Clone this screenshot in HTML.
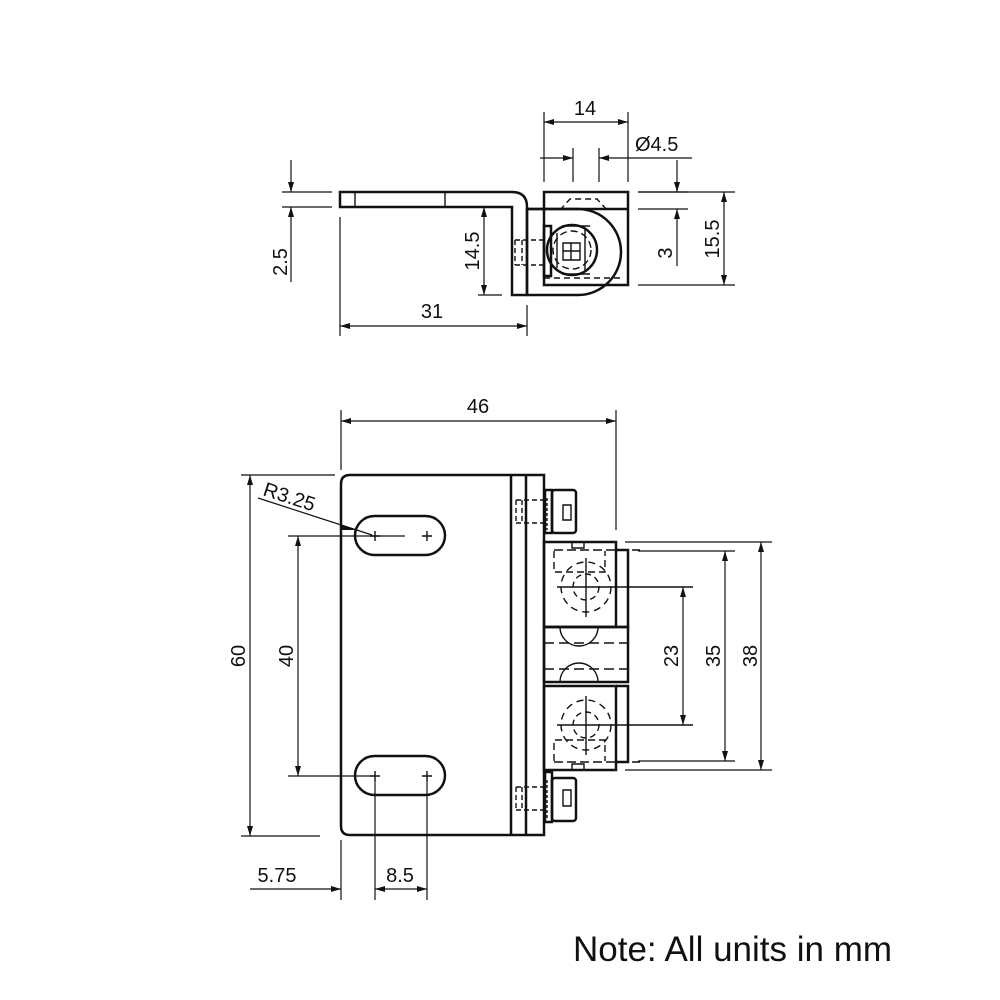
<!DOCTYPE html>
<html><head><meta charset="utf-8"><style>
html,body{margin:0;padding:0;background:#fff}
svg{display:block}
text{font-family:"Liberation Sans",Arial,sans-serif;fill:#111}
</style></head><body>
<svg width="1000" height="1000" viewBox="0 0 1000 1000" xmlns="http://www.w3.org/2000/svg">
<defs>
<marker id="a" viewBox="0 0 10 6" refX="10" refY="3" markerWidth="14" markerHeight="6" markerUnits="userSpaceOnUse" orient="auto-start-reverse"><path d="M0,0L10,3L0,6z" fill="#111"/></marker>
</defs>
<g stroke="#111" fill="none">
<!-- ============ TOP VIEW ============ -->
<g stroke-width="2.5">
<path d="M340,192 H512 Q527,192 527,207 V295 H512 V207 H340 Z"/>
<rect x="544" y="192" width="84" height="93"/>
<path d="M527,209 H628"/>
<path d="M527,209 H578 A43,43 0 0 1 578,295 H527"/>
<circle cx="572" cy="250" r="25"/>
<rect x="544" y="226" width="7" height="50"/>
<path d="M527,209 V295"/>
</g>
<g stroke-width="1.4">
<path d="M355,192 V207 M445,192 V207"/>
<path d="M515,240 H544 M515,265 H544 M515,240 V265 M522,240 V265" stroke-dasharray="5,3"/>
<path d="M562,226 H590 M562,274 H590 M585,228 V272 M557,233 V268" />
<path d="M563,243 H580 V260 H563 Z M571,243 V260 M563,251 H580"/>
<path d="M560,210 L570,199 H597 L607,210" stroke-dasharray="6,4"/>
<path d="M544,278 H620" stroke-dasharray="6,4"/>
<circle cx="572" cy="250" r="19" stroke-dasharray="7,4"/>
</g>
<g stroke-width="1.2">
<path d="M544,112 V182 M628,112 V182"/>
<path d="M544,122 H628" marker-start="url(#a)" marker-end="url(#a)"/>
<path d="M573,148 V182 M599,148 V182"/>
<path d="M540,158 H573" marker-end="url(#a)"/>
<path d="M692,158 H599" marker-end="url(#a)"/>
<path d="M282,192 H332 M282,207 H332"/>
<path d="M291,160 V192" marker-end="url(#a)"/>
<path d="M291,282 V207" marker-end="url(#a)"/>
<path d="M478,295 H502"/>
<path d="M484,207 V295" marker-start="url(#a)" marker-end="url(#a)"/>
<path d="M638,192 H688 M638,209 H688"/>
<path d="M677,160 V192" marker-end="url(#a)"/>
<path d="M677,266 V209" marker-end="url(#a)"/>
<path d="M638,192 H735 M638,285 H735"/>
<path d="M724,192 V285" marker-start="url(#a)" marker-end="url(#a)"/>
<path d="M340,217 V336 M527,305 V336"/>
<path d="M340,326 H527" marker-start="url(#a)" marker-end="url(#a)"/>
</g>

<!-- ============ FRONT VIEW ============ -->
<g stroke-width="2.5">
<path d="M350,475 H544 V835 H350 Q341,835 341,826 V484 Q341,475 350,475 Z"/>
<path d="M511,475 V835 M526,475 V835"/>
<rect x="355" y="516" width="90" height="39" rx="19.5"/>
<rect x="355" y="756" width="90" height="39" rx="19.5"/>
<rect x="545" y="490" width="7" height="43"/>
<rect x="552" y="490" width="24" height="43" rx="3"/>
<rect x="545" y="772" width="7" height="50"/>
<rect x="552" y="778" width="24" height="43" rx="3"/>
<rect x="544" y="542" width="72" height="85"/>
<path d="M616,550 H628 V627 H544"/>
<rect x="544" y="627" width="84" height="55"/>
<rect x="544" y="686" width="72" height="84"/>
<path d="M616,686 H628 V762 H616"/>
</g>
<g stroke-width="1.4">
<path d="M563,505 H571 V520 H563 Z"/>
<path d="M563,790 H571 V806 H563 Z"/>
<path d="M516,500 H545 M516,523 H545 M516,500 V523 M522,500 V523" stroke-dasharray="5,3"/>
<path d="M516,787 H545 M516,810 H545 M516,787 V810 M522,787 V810" stroke-dasharray="5,3"/>
<path d="M547,498 V530 M547,780 V818" stroke-dasharray="3,2"/>
<path d="M554,550 H640 M554,762 H640" stroke-dasharray="9,4"/>
<path d="M544,550 V770" stroke-dasharray="9,4"/>
<path d="M554,551 V572 H605 V551" stroke-dasharray="7,4"/>
<path d="M554,761 V740 H605 V761" stroke-dasharray="7,4"/>
<path d="M572,542 V548 H584 V542 M572,770 V764 H584 V770"/>
<circle cx="586" cy="587" r="25" stroke-dasharray="7,5"/>
<circle cx="586" cy="587" r="13" stroke-dasharray="6,4"/>
<circle cx="586" cy="725" r="25" stroke-dasharray="7,5"/>
<circle cx="586" cy="725" r="13" stroke-dasharray="6,4"/>
<path d="M557,587 H693 M586,558 V617 M581,587 H591"/>
<path d="M557,725 H693 M586,696 V755 M581,725 H591"/>
<path d="M544,643 H628 M544,669 H628" stroke-dasharray="10,5"/>
<path d="M560,627 A19,19 0 0 0 598,627 M560,682 A19,19 0 0 1 598,682"/>
<path d="M370,536 H380 M375,531 V541 M422,536 H432 M427,531 V541"/>
<path d="M370,776 H380 M375,771 V781 M422,776 H432 M427,771 V781"/>
</g>
<g stroke-width="1.2">
<path d="M341,410 V470 M616,410 V530"/>
<path d="M341,421 H616" marker-start="url(#a)" marker-end="url(#a)"/>
<path d="M241,475 H335 M241,836 H320"/>
<path d="M250,475 V836" marker-start="url(#a)" marker-end="url(#a)"/>
<path d="M288,536 H405 M288,776 H370"/>
<path d="M298,536 V776" marker-start="url(#a)" marker-end="url(#a)"/>
<path d="M258,498 L372,535"/>
<path d="M340,524 L358,530 L340,530 Z" fill="#111" stroke="none"/>
<path d="M341,840 V900 M375,780 V900 M427,780 V900"/>
<path d="M250,889 H341" marker-end="url(#a)"/>
<path d="M375,889 H427" marker-start="url(#a)" marker-end="url(#a)"/>
<path d="M625,542 H772 M625,770 H772"/>
<path d="M761,542 V770" marker-start="url(#a)" marker-end="url(#a)"/>
<path d="M638,551 H735 M638,761 H735"/>
<path d="M725,551 V761" marker-start="url(#a)" marker-end="url(#a)"/>
<path d="M683,587 V725" marker-start="url(#a)" marker-end="url(#a)"/>
</g>
</g>

<g font-size="20">
<text x="585" y="115" text-anchor="middle">14</text>
<text x="635" y="151">Ø4.5</text>
<text x="432" y="318" text-anchor="middle">31</text>
<text transform="translate(287,262) rotate(-90)" text-anchor="middle">2.5</text>
<text transform="translate(479,251) rotate(-90)" text-anchor="middle">14.5</text>
<text transform="translate(672,253) rotate(-90)" text-anchor="middle">3</text>
<text transform="translate(719,239) rotate(-90)" text-anchor="middle">15.5</text>
<text x="478" y="413" text-anchor="middle">46</text>
<text transform="translate(262,495) rotate(18)">R3.25</text>
<text transform="translate(245,656) rotate(-90)" text-anchor="middle">60</text>
<text transform="translate(293,656) rotate(-90)" text-anchor="middle">40</text>
<text x="277" y="882" text-anchor="middle">5.75</text>
<text x="400" y="882" text-anchor="middle">8.5</text>
<text transform="translate(678,656) rotate(-90)" text-anchor="middle">23</text>
<text transform="translate(720,656) rotate(-90)" text-anchor="middle">35</text>
<text transform="translate(757,656) rotate(-90)" text-anchor="middle">38</text>
</g>
<text x="573" y="961" font-size="35">Note: All units in mm</text>
</svg>
</body></html>
